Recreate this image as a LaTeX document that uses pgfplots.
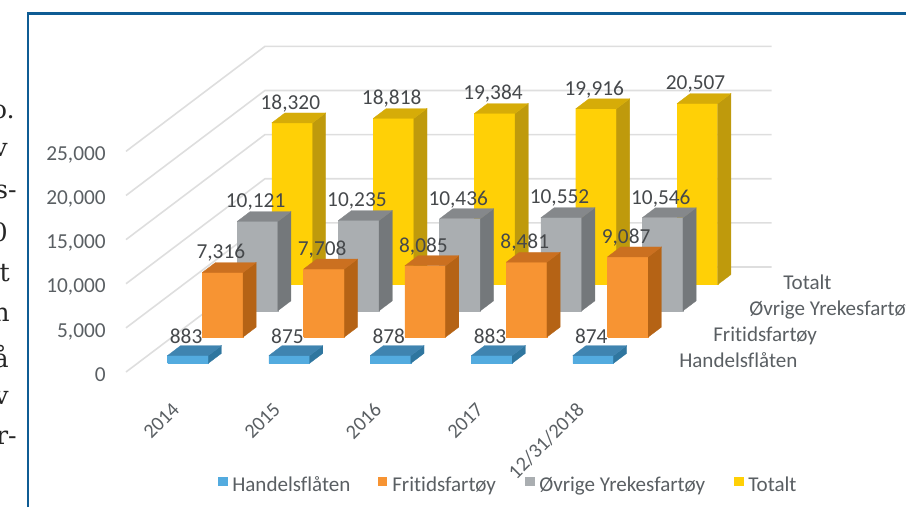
\documentclass[border=0pt]{standalone}
\usepackage{fontspec}
\setmainfont{Carlito}[Ligatures=NoCommon]
\newfontfamily\bodyf{DejaVu Serif}
\usepackage{pgfplots}
\pgfplotsset{compat=1.18}
\definecolor{gridc}{HTML}{DEDEDE}
\definecolor{framec}{HTML}{0F5C94}
\definecolor{txtc}{HTML}{5A5F63}
\definecolor{lblc}{HTML}{45484B}
\definecolor{yF}{HTML}{FFD006}\definecolor{yS}{HTML}{BF9A0C}\definecolor{yT}{HTML}{D6AC08}
\definecolor{gF}{HTML}{AAAEB1}\definecolor{gS}{HTML}{74787B}\definecolor{gT}{HTML}{85888B}
\definecolor{oF}{HTML}{F79433}\definecolor{oS}{HTML}{B56315}\definecolor{oT}{HTML}{CB7020}
\definecolor{bF}{HTML}{53ABDF}\definecolor{bS}{HTML}{2F769F}\definecolor{bT}{HTML}{3F84B0}
% #1 category index, #2 depth slot, #3 value, #4 colour prefix
\newcommand{\threedbar}[4]{%
  \pgfmathsetmacro{\xa}{#1+0.297}\pgfmathsetmacro{\xb}{#1+0.699}%
  \pgfmathsetmacro{\ya}{#2+0.33}\pgfmathsetmacro{\yb}{#2+0.71}%
  \addplot3[fill=#4F,draw=#4F,line width=0.3pt,mark=none] coordinates {(\xa,\ya,0)(\xb,\ya,0)(\xb,\ya,#3)(\xa,\ya,#3)(\xa,\ya,0)};
  \addplot3[fill=#4S,draw=#4S,line width=0.2pt,mark=none] coordinates {(\xb,\ya,0)(\xb,\yb,0)(\xb,\yb,#3)(\xb,\ya,#3)(\xb,\ya,0)};
  \addplot3[fill=#4T,draw=#4T,line width=0.2pt,mark=none] coordinates {(\xa,\ya,#3)(\xb,\ya,#3)(\xb,\yb,#3)(\xa,\yb,#3)(\xa,\ya,#3)};
}
\newcommand{\gridl}[1]{\addplot3[gridc,line width=1.2pt,mark=none] coordinates {(0,0,#1)(0,4,#1)(5,4,#1)};}
\newcommand{\lab}[4]{\node[text=lblc,font=\fontsize{16pt}{18pt}\selectfont,yshift=14.6pt,xshift=-1.5pt] at (axis cs:#1,#2,#3) {#4};}
\begin{document}
\begin{tikzpicture}[x=0.75pt,y=-0.75pt]
\useasboundingbox (0,0) rectangle (906,507);
\clip (0,0) rectangle (906,507);
\begin{axis}[
  anchor=origin, at={(94.5pt,-279pt)},
  x={(75.975pt,0pt)}, y={(26.06pt,19.69pt)}, z={(0pt,0.006615pt)},
  xmin=0,xmax=5,ymin=0,ymax=4,zmin=0,zmax=25000,
  hide axis, clip=false]
\gridl{0}\gridl{5000}\gridl{10000}\gridl{15000}\gridl{20000}\gridl{25000}
% Totalt
\threedbar{0}{3}{18320}{y}\threedbar{1}{3}{18818}{y}\threedbar{2}{3}{19384}{y}\threedbar{3}{3}{19916}{y}\threedbar{4}{3}{20507}{y}
% Ovrige Yrkesfartoy
\threedbar{0}{2}{10121}{g}\threedbar{1}{2}{10235}{g}\threedbar{2}{2}{10436}{g}\threedbar{3}{2}{10552}{g}\threedbar{4}{2}{10546}{g}
% Fritidsfartoy
\threedbar{0}{1}{7316}{o}\threedbar{1}{1}{7708}{o}\threedbar{2}{1}{8085}{o}\threedbar{3}{1}{8481}{o}\threedbar{4}{1}{9087}{o}
% Handelsflaten
\threedbar{0}{0}{883}{b}\threedbar{1}{0}{875}{b}\threedbar{2}{0}{878}{b}\threedbar{3}{0}{883}{b}\threedbar{4}{0}{874}{b}
\lab{0.5}{3.33}{18320}{18,320}\lab{1.5}{3.33}{18818}{18,818}\lab{2.5}{3.33}{19384}{19,384}\lab{3.5}{3.33}{19916}{19,916}\lab{4.5}{3.33}{20507}{20,507}
\lab{0.5}{2.33}{10121}{10,121}\lab{1.5}{2.33}{10235}{10,235}\lab{2.5}{2.33}{10436}{10,436}\lab{3.5}{2.33}{10552}{10,552}\lab{4.5}{2.33}{10546}{10,546}
\lab{0.5}{1.33}{7316}{7,316}\lab{1.5}{1.33}{7708}{7,708}\lab{2.5}{1.33}{8085}{8,085}\lab{3.5}{1.33}{8481}{8,481}\lab{4.5}{1.33}{9087}{9,087}
\lab{0.5}{0.33}{883}{883}\lab{1.5}{0.33}{875}{875}\lab{2.5}{0.33}{878}{878}\lab{3.5}{0.33}{883}{883}\lab{4.5}{0.33}{874}{874}
\end{axis}
% frame
\draw[framec,line width=2pt] (28,507) -- (28,13.5) -- (906,13.5);
% value axis
\tikzset{tk/.style={text=txtc,font=\fontsize{16pt}{18pt}\selectfont,anchor=base east,inner sep=0pt}}
\node[tk] at (106,160) {25,000};
\node[tk] at (106,204) {20,000};
\node[tk] at (106,248) {15,000};
\node[tk] at (106,292) {10,000};
\node[tk] at (106,337) {5,000};
\node[tk] at (106,381) {0};
% categories
\foreach \xx/\tt in {176/2014,277/2015,378/2016,480/2017,581/12\slash 31\slash 2018}
  \node[text=txtc,font=\fontsize{15.2pt}{18pt}\selectfont,anchor=east,rotate=45,inner sep=0pt] at (\xx,406) {\tt};
% depth labels
\tikzset{dl/.style={text=txtc,font=\fontsize{15.8pt}{18pt}\selectfont,anchor=base west,inner sep=0pt}}
\node[dl] at (783,289) {Totalt};
\node[dl] at (749,315.7) {Øvrige Yrekesfartøy};
\node[dl] at (713,341.7) {Fritidsfartøy};
\node[dl] at (679,367.7) {Handelsflåten};
% legend
\fill[bF] (218,477) rectangle (228,486); \node[dl] at (232,491.7) {Handelsflåten};
\fill[oF] (378,477) rectangle (387,486); \node[dl] at (392,491.7) {Fritidsfartøy};
\fill[gF] (525,477) rectangle (535,486); \node[dl] at (539,491.7) {Øvrige Yrekesfartøy};
\fill[yF] (734,477) rectangle (744,486); \node[dl] at (748,491.7) {Totalt};
% clipped body text at the left
\tikzset{bt/.style={text=black!85,font=\bodyf\fontsize{19pt}{22pt}\selectfont,anchor=east,inner sep=0pt}}
\node[bt] at (15,112) {o.};
\node[bt] at (8,150) {v};
\node[bt] at (17,192) {s-};
\node[bt] at (8,232) {0};
\node[bt] at (10,273) {t};
\node[bt] at (10,315) {n};
\node[bt] at (9,357) {å};
\node[bt] at (9,398) {v};
\node[bt] at (17,438) {r-};
\end{tikzpicture}
\end{document}
